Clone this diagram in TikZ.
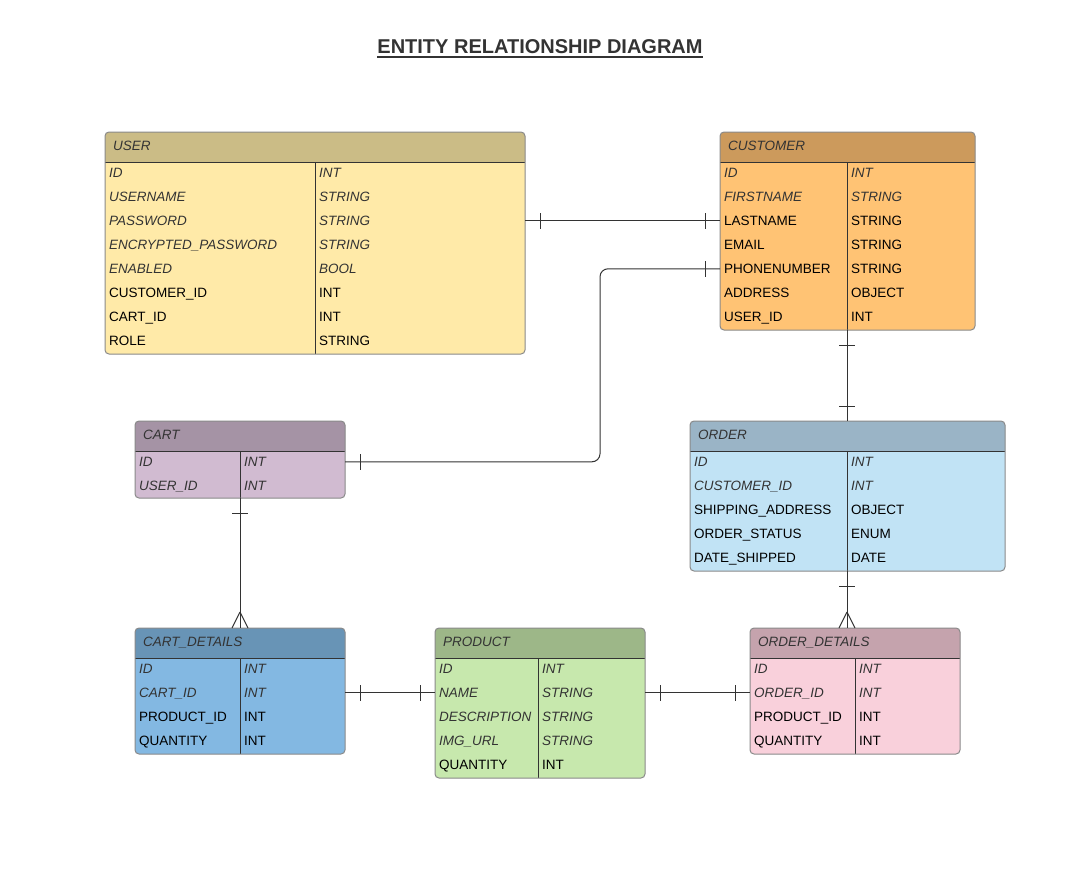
\documentclass[tikz,border=0pt]{standalone}
\usepackage{fontspec}
\setmainfont{Liberation Sans}
\usetikzlibrary{decorations.markings}
\definecolor{ink}{HTML}{333333}
\definecolor{bord}{HTML}{8A8A8A}
\definecolor{hUser}{HTML}{CBBC86}\definecolor{bUser}{HTML}{FFEAA8}
\definecolor{hCus}{HTML}{CC9A5C}\definecolor{bCus}{HTML}{FFC374}
\definecolor{hCart}{HTML}{A593A5}\definecolor{bCart}{HTML}{D1BBD1}
\definecolor{hOrd}{HTML}{9AB4C6}\definecolor{bOrd}{HTML}{C1E3F5}
\definecolor{hCd}{HTML}{6894B6}\definecolor{bCd}{HTML}{83B8E2}
\definecolor{hProd}{HTML}{9DB788}\definecolor{bProd}{HTML}{C7E8AD}
\definecolor{hOd}{HTML}{C5A3AD}\definecolor{bOd}{HTML}{F9D0DB}
\tikzset{
  tblbody/.style={inner sep=0pt, outer sep=0pt, rounded corners=4pt},
  tblline/.style={draw=ink, line width=1pt},
  tblborder/.style={draw=bord, line width=1pt, rounded corners=4pt},
  hdrtxt/.style={anchor=west, inner sep=0pt, text height=9.6pt, text depth=0pt, text=ink, font=\fontsize{13.5}{15}\selectfont\itshape},
  rowtxt/.style={anchor=west, inner sep=0pt, text height=9.6pt, text depth=0pt, font=\fontsize{13.5}{15}\selectfont},
  it/.style={text=ink, font=\fontsize{13.5}{15}\selectfont\itshape},
  up/.style={text=black},
  conn/.style={draw=ink, line width=1pt},
  tickstart/.style={postaction={decorate,decoration={markings,mark=at position 15pt with {\draw[conn] (0pt,-8pt) -- (0pt,8pt);}}}},
  tickend/.style={postaction={decorate,decoration={markings,mark=at position -15pt with {\draw[conn] (0pt,-8pt) -- (0pt,8pt);}}}},
  crowend/.style={postaction={decorate,decoration={markings,mark=at position 1 with {\draw[conn] (-16pt,0pt) -- (0pt,8pt) (-16pt,0pt) -- (0pt,-8pt);}}}},
}
\newcommand{\ertable}[9]{%
  \node[tblbody, fill=#8, minimum width={#4-#2}, minimum height={#5-#3}, anchor=north west] (#1) at (#2,#3) {};
  \fill[#7] (#2,#3+30) [rounded corners=4pt] -- (#2,#3) -- (#4,#3) [sharp corners] -- (#4,#3+30) -- cycle;
  \draw[tblline] (#2,#3+30) -- (#4,#3+30);
  \coordinate (#1-div) at (#6,#3);
  \draw[tblline] (#6,#3+30) -- (#6,#5);
  \draw[tblborder] (#2,#3) rectangle (#4,#5);
  \node[hdrtxt] (#1-t) at (#2+8,#3+13.5) {#9};
}
\newcommand{\errows}[5]{%
  \foreach \i/\st/\a/\b in {#5} {
    \node[rowtxt,\st] (#1-\i) at (#2+4, #3+16.8+24*\i) {\a};
    \node[rowtxt,\st] (#1-\i-b) at (#4+4, #3+16.8+24*\i) {\b};
  }
}
\begin{document}
\begin{tikzpicture}[x=1pt,y=-1pt]
\useasboundingbox (0,0) rectangle (1072,875);
\fill[white] (0,0) rectangle (1072,875);
% title
\node[inner sep=0pt, anchor=base, text=ink, text height=14pt, text depth=0pt, font=\fontsize{20}{24}\selectfont\bfseries] (title) at (540,53.5) {ENTITY RELATIONSHIP DIAGRAM};
\draw[draw=ink, line width=1.6pt] ([yshift=-3.2pt]title.south west) -- ([yshift=-3.2pt]title.south east);
% tables
\ertable{user}{105}{132}{525}{354}{315}{hUser}{bUser}{USER}
\errows{user}{105}{132}{315}{1/it/ID/INT,2/it/USERNAME/STRING,3/it/PASSWORD/STRING,4/it/ENCRYPTED\_PASSWORD/STRING,5/it/ENABLED/BOOL,6/up/CUSTOMER\_ID/INT,7/up/CART\_ID/INT,8/up/ROLE/STRING}
\ertable{cus}{720}{132}{975}{330}{847}{hCus}{bCus}{CUSTOMER}
\errows{cus}{720}{132}{847}{1/it/ID/INT,2/it/FIRSTNAME/STRING,3/up/LASTNAME/STRING,4/up/EMAIL/STRING,5/up/PHONENUMBER/STRING,6/up/ADDRESS/OBJECT,7/up/USER\_ID/INT}
\ertable{cart}{135}{421}{345}{498}{240}{hCart}{bCart}{CART}
\errows{cart}{135}{421}{240}{1/it/ID/INT,2/it/USER\_ID/INT}
\ertable{ord}{690}{421}{1005}{571}{847}{hOrd}{bOrd}{ORDER}
\errows{ord}{690}{421}{847}{1/it/ID/INT,2/it/CUSTOMER\_ID/INT,3/up/SHIPPING\_ADDRESS/OBJECT,4/up/ORDER\_STATUS/ENUM,5/up/DATE\_SHIPPED/DATE}
\ertable{cd}{135}{628}{345}{754}{240}{hCd}{bCd}{CART\_DETAILS}
\errows{cd}{135}{628}{240}{1/it/ID/INT,2/it/CART\_ID/INT,3/up/PRODUCT\_ID/INT,4/up/QUANTITY/INT}
\ertable{prod}{435}{628}{645}{778}{538}{hProd}{bProd}{PRODUCT}
\errows{prod}{435}{628}{538}{1/it/ID/INT,2/it/NAME/STRING,3/it/DESCRIPTION/STRING,4/it/IMG\_URL/STRING,5/up/QUANTITY/INT}
\ertable{od}{750}{628}{960}{754}{855}{hOd}{bOd}{ORDER\_DETAILS}
\errows{od}{750}{628}{855}{1/it/ID/INT,2/it/ORDER\_ID/INT,3/up/PRODUCT\_ID/INT,4/up/QUANTITY/INT}
% connectors
\coordinate (bend) at (600,300);
\draw[conn, tickstart, tickend] (user.east |- cus-3) -- (cus.west |- cus-3);
\draw[conn, rounded corners=8pt, tickstart, tickend] (cart.east |- cart-1) -| (bend |- cus-5) -- (cus.west |- cus-5);
\draw[conn, tickstart, tickend] (cus.south -| cus-div) -- (ord.north -| cus-div);
\draw[conn, tickstart, crowend] (cart.south -| cart-div) -- (cd.north -| cart-div);
\draw[conn, tickstart, crowend] (ord.south -| ord-div) -- (od.north -| ord-div);
\draw[conn, tickstart, tickend] (cd.east |- cd-2) -- (prod.west |- cd-2);
\draw[conn, tickstart, tickend] (prod.east |- od-2) -- (od.west |- od-2);
\end{tikzpicture}
\end{document}
